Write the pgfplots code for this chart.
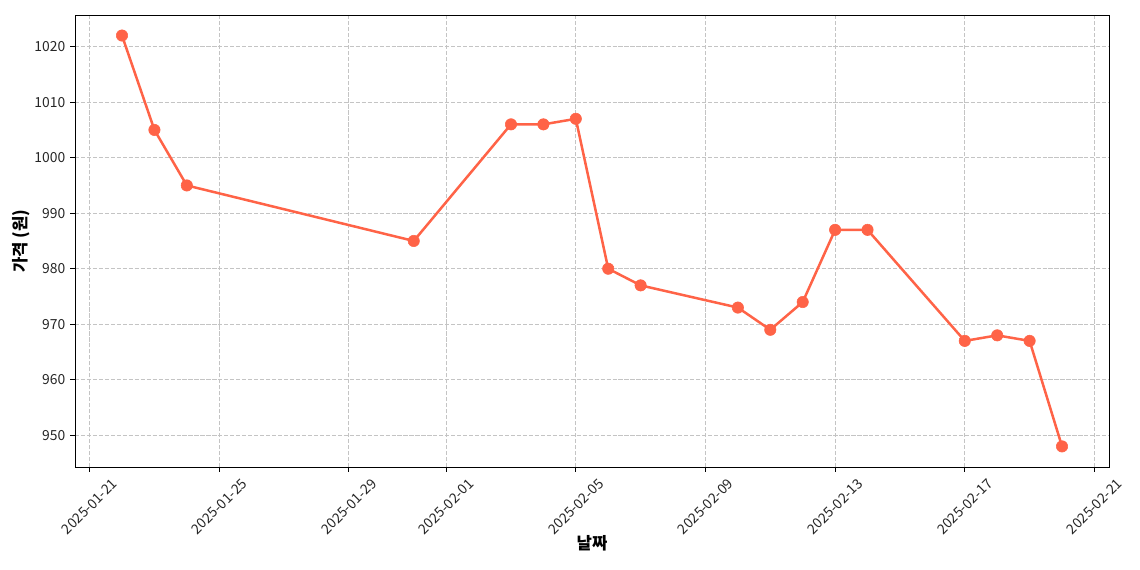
\documentclass[border=0pt]{standalone}
\usepackage{pgfplots}
\pgfplotsset{compat=1.18}
\usetikzlibrary{calc}
\usepackage{fontspec}
\setmainfont{Noto Sans CJK KR}
\definecolor{tomato}{HTML}{FF6347}
\definecolor{gridc}{HTML}{C4C4C4}
\begin{document}
\begin{tikzpicture}
\begin{axis}[
  scale only axis,
  width=744.5pt, height=325.4pt,
  xmin=-0.45, xmax=31.45,
  ymin=944.3, ymax=1025.7,
  xtick={0,4,8,11,15,19,23,27,31},
  xticklabels={2025-01-21,2025-01-25,2025-01-29,2025-02-01,2025-02-05,2025-02-09,2025-02-13,2025-02-17,2025-02-21},
  ytick={950,960,970,980,990,1000,1010,1020},
  yticklabel style={/pgf/number format/.cd, 1000 sep={}, assume math mode=true},
  /pgf/number format/1000 sep={},
  tick label style={font=\fontsize{10}{12}\selectfont, text=black!85},
  xticklabel style={yshift=-25pt, rotate=45, anchor=center},
  tick align=outside,
  xtick pos=bottom, ytick pos=left,
  major tick length=3.5pt,
  every tick/.style={black, line width=0.6pt},
  axis line style={black, line width=0.6pt},
  grid=major,
  major grid style={gridc, line width=0.7pt, dash pattern=on 3pt off 1.3pt},
  xlabel={\textbf{날짜}},
  ylabel={\textbf{가격 (원)}},
  label style={font=\fontsize{12}{14}\selectfont},
  xlabel style={yshift=8pt},
  ylabel style={yshift=-3.5pt},
  clip=false,
]
\addplot[color=tomato, line width=1.8pt, mark=*, mark size=4.1pt, mark options={solid, fill=tomato, draw=tomato, line width=0.4pt}]
coordinates {
(1,1022) (2,1005) (3,995) (10,985) (13,1006) (14,1006) (15,1007) (16,980) (17,977) (20,973) (21,969) (22,974) (23,987) (24,987) (27,967) (28,968) (29,967) (30,948)
};
\end{axis}
\pgfresetboundingbox
\path[use as bounding box] ($(current axis.south west)+(-54pt,-74.2pt)$) rectangle ($(current axis.north east)+(22.3pt,10.8pt)$);
\end{tikzpicture}
\end{document}
